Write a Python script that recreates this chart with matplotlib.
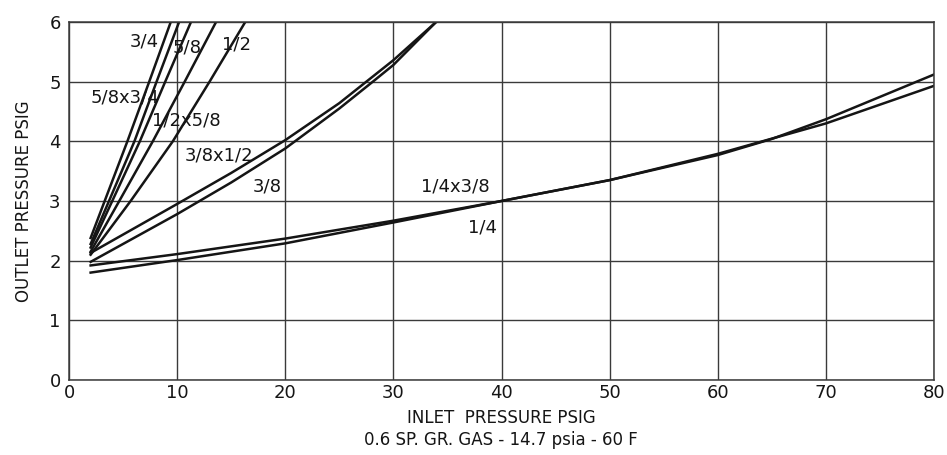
import matplotlib
matplotlib.use("Agg")
import matplotlib.pyplot as plt

plt.rcParams['font.family'] = ['DejaVu Sans']

# curves: inlet pressure (x) vs outlet pressure (y)
x_34 = [2, 3.3, 5.4, 7.42, 9.41]
y_34 = [2.38, 3.0, 4.0, 5.0, 6.0]

x_58x34 = [2, 3.7, 6.05, 8.1, 10.18]
y_58x34 = [2.28, 3.0, 4.0, 5.0, 6.0]

x_58 = [2, 4.0, 6.55, 8.9, 11.28]
y_58 = [2.22, 3.0, 4.0, 5.0, 6.0]

x_12x58 = [2, 4.65, 7.75, 10.7, 13.6]
y_12x58 = [2.15, 3.0, 4.0, 5.0, 6.0]

x_12 = [2, 5.7, 9.6, 13.0, 16.3]
y_12 = [2.10, 3.0, 4.0, 5.0, 6.0]

x_38x12 = [2, 10, 15, 20, 25, 27.5, 30, 33.95]
y_38x12 = [2.13, 2.95, 3.47, 4.02, 4.64, 5.0, 5.36, 6.0]

x_38 = [2, 10, 15, 20, 25, 28.1, 30, 33.95]
y_38 = [1.98, 2.78, 3.31, 3.88, 4.55, 5.0, 5.28, 6.0]

x_14x38 = [2, 10, 20, 30, 40, 50, 60, 70, 80]
y_14x38 = [1.92, 2.11, 2.37, 2.67, 3.0, 3.35, 3.79, 4.30, 4.93]

x_14 = [2, 10, 20, 30, 40, 50, 60, 65, 70, 80]
y_14 = [1.80, 2.01, 2.29, 2.64, 3.0, 3.35, 3.77, 4.04, 4.37, 5.12]

curves = [(x_34, y_34), (x_58x34, y_58x34), (x_58, y_58), (x_12x58, y_12x58),
          (x_12, y_12), (x_38x12, y_38x12), (x_38, y_38), (x_14x38, y_14x38),
          (x_14, y_14)]

labels = ["3/4", "5/8", "1/2", "5/8x3/4", "1/2x5/8", "3/8x1/2", "3/8", "1/4x3/8", "1/4"]
label_x = [7.0, 10.94, 15.5, 5.18, 10.82, 13.9, 18.3, 35.7, 38.2]
label_y = [5.68, 5.58, 5.63, 4.73, 4.35, 3.76, 3.24, 3.24, 2.55]

fig = plt.figure(figsize=(9.47, 4.55), dpi=100)
ax = fig.add_axes([69 / 947, 1 - 380 / 455, 865 / 947, 358 / 455])

for xs, ys in curves:
    ax.plot(xs, ys, color='#151515', lw=1.8, solid_joinstyle='round')

for t, lx, ly in zip(labels, label_x, label_y):
    ax.text(lx, ly, t, ha='center', va='center', fontsize=13, color='#151515')

ax.set_xlim(0, 80)
ax.set_ylim(0, 6)
ax.set_xticks(range(0, 81, 10))
ax.set_yticks(range(0, 7))
ax.grid(True, color='#3a3a3a', lw=1.0)
ax.tick_params(length=0, labelsize=13, colors='#151515')
ax.tick_params(axis='x', pad=3)
ax.tick_params(axis='y', pad=6)
for s in ax.spines.values():
    s.set_color('#3a3a3a')
    s.set_linewidth(1.1)

ax.set_ylabel("OUTLET PRESSURE PSIG", fontsize=12, color='#151515', labelpad=12)
fig.text(501 / 947, 1 - 418 / 455, "INLET  PRESSURE PSIG", ha='center', va='center',
         fontsize=12, color='#151515')
fig.text(501 / 947, 1 - 440 / 455, "0.6 SP. GR. GAS - 14.7 psia - 60 F", ha='center',
         va='center', fontsize=12, color='#151515')

fig.savefig("out.png", dpi=100)
